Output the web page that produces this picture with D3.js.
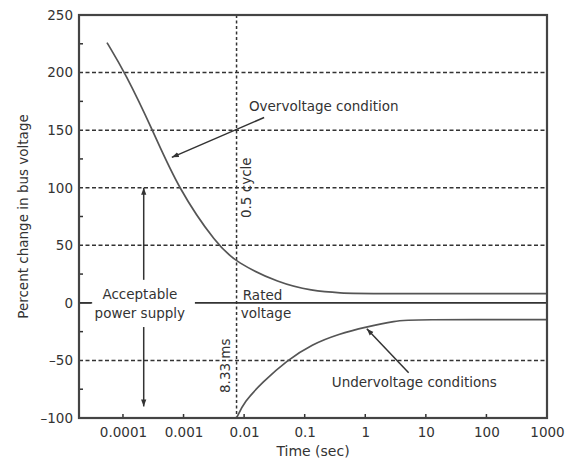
<!DOCTYPE html>
<html>
<head>
<meta charset="utf-8">
<script src="https://cdn.jsdelivr.net/npm/d3@7"></script>
<style>
  body { margin: 0; background: #fff; }
  text { font-family: "DejaVu Sans", sans-serif; fill: #333; }
</style>
</head>
<body>
<div id="chart"></div>
<script>
// time (s) / percent change readings
var overT = [5.45e-5, 1.08e-4, 3.1e-4, 8e-4, 3.6e-3, 7.5e-3, 0.038, 0.13, 0.4, 1, 1000];
var overV = [226, 200, 150, 100, 50, 35, 17, 10.5, 8.5, 8, 8];
var underT = [0.0075, 0.01, 0.02, 0.051, 0.132, 0.367, 1.02, 3.19, 6, 1000];
var underV = [-100, -86, -69, -50, -36, -27, -21, -15.5, -14.5, -14.5];

var yTicks = [250, 200, 150, 100, 50, 0, -50, -100];
var yMinor = [225, 175, 125, 75, 25, -25, -75];
var gridV = [200, 150, 100, 50, -50];
var xTicks = [0.0001, 0.001, 0.01, 0.1, 1, 10, 100, 1000];
var xTickLabels = ["0.0001", "0.001", "0.01", "0.1", "1", "10", "100", "1000"];
var halfCycle = 0.0075;
var ratedSegs = [[1.88e-5, 3.1e-5], [1.54e-3, 1000]];
var supplyT = 2.2e-4;
var supplyArrows = [[20, 100], [-21, -90]];

var margin = {top: 15, right: 22, bottom: 44, left: 79},
    width = 569 - margin.left - margin.right,
    height = 462 - margin.top - margin.bottom;

var svg = d3.select("#chart").append("svg")
    .attr("width", 569)
    .attr("height", 462);

var defs = svg.append("defs");
defs.append("marker")
    .attr("id", "arr")
    .attr("viewBox", "0 -4 8 8")
    .attr("refX", 8)
    .attr("refY", 0)
    .attr("markerWidth", 7)
    .attr("markerHeight", 7)
    .attr("markerUnits", "userSpaceOnUse")
    .attr("orient", "auto")
  .append("path")
    .attr("d", "M0,-3L8,0L0,3Z")
    .attr("fill", "#333");

var g = svg.append("g")
    .attr("transform", "translate(" + margin.left + "," + margin.top + ")");

var x = d3.scaleLog().domain([1.88e-5, 1000]).range([0, width]);
var y = d3.scaleLinear().domain([-100, 250]).range([height, 0]);

// grid
g.selectAll(".hgrid").data(gridV).enter().append("line")
    .attr("x1", 0).attr("x2", width)
    .attr("y1", function(d) { return y(d); })
    .attr("y2", function(d) { return y(d); })
    .attr("stroke", "#333").attr("stroke-width", 1.5)
    .attr("stroke-dasharray", "4,2.5");

g.append("line")
    .attr("x1", x(halfCycle)).attr("x2", x(halfCycle))
    .attr("y1", 0).attr("y2", height)
    .attr("stroke", "#333").attr("stroke-width", 1.5)
    .attr("stroke-dasharray", "3,2.5");

// rated voltage line
g.selectAll(".rated").data(ratedSegs).enter().append("line")
    .attr("x1", function(d) { return x(d[0]); })
    .attr("x2", function(d) { return x(d[1]); })
    .attr("y1", y(0)).attr("y2", y(0))
    .attr("stroke", "#333").attr("stroke-width", 1.6);

// curves
var line = d3.line()
    .x(function(d) { return x(d[0]); })
    .y(function(d) { return y(d[1]); })
    .curve(d3.curveBasis);

g.append("path")
    .datum(d3.zip(overT, overV))
    .attr("d", line)
    .attr("fill", "none").attr("stroke", "#555").attr("stroke-width", 1.7);

g.append("path")
    .datum(d3.zip(underT, underV))
    .attr("d", line)
    .attr("fill", "none").attr("stroke", "#555").attr("stroke-width", 1.7);

// axes
var yAxis = d3.axisLeft(y).tickValues(yTicks).tickSizeInner(0).tickSizeOuter(0)
    .tickPadding(6)
    .tickFormat(function(d) { return d < 0 ? "\u2013" + Math.abs(d) : d; });
var yAxisG = g.append("g").call(yAxis);
yAxisG.select(".domain").remove();
yAxisG.selectAll("text").style("font-size", "13.5px").attr("fill", "#333");

var xAxis = d3.axisBottom(x).tickValues(xTicks).tickSizeInner(0).tickSizeOuter(0)
    .tickPadding(9)
    .tickFormat(function(d, i) { return xTickLabels[i]; });
var xAxisG = g.append("g").attr("transform", "translate(0," + height + ")").call(xAxis);
xAxisG.select(".domain").remove();
xAxisG.selectAll("text").style("font-size", "13.5px").attr("fill", "#333");

// inner tick marks
g.selectAll(".ytk").data(yMinor.concat([0])).enter().append("line")
    .attr("x1", 0).attr("x2", function(d) { return d === 0 ? 12 : 4; })
    .attr("y1", function(d) { return y(d); })
    .attr("y2", function(d) { return y(d); })
    .attr("stroke", "#333").attr("stroke-width", 1.5);

g.selectAll(".xtk").data(xTicks.slice(0, -1)).enter().append("line")
    .attr("x1", function(d) { return x(d); })
    .attr("x2", function(d) { return x(d); })
    .attr("y1", height).attr("y2", height - 4)
    .attr("stroke", "#333").attr("stroke-width", 1.5);

// frame
g.append("rect")
    .attr("width", width).attr("height", height)
    .attr("fill", "none").attr("stroke", "#444").attr("stroke-width", 2.2);

// axis titles
g.append("text")
    .attr("x", width / 2).attr("y", height + 38)
    .attr("text-anchor", "middle")
    .style("font-size", "14px")
    .text("Time (sec)");

g.append("text")
    .attr("transform", "translate(" + (-51) + "," + y(75) + ") rotate(-90)")
    .attr("text-anchor", "middle")
    .style("font-size", "13.5px")
    .text("Percent change in bus voltage");

// annotations
function label(t, v, s, anchor, rot) {
  var tr = "translate(" + x(t) + "," + y(v) + ")" + (rot ? " rotate(-90)" : "");
  return g.append("text")
    .attr("transform", tr)
    .attr("text-anchor", anchor || "start")
    .style("font-size", "13.5px")
    .text(s);
}

label(0.012, 167, "Overvoltage condition");
label(0.0132, 100, "0.5 cycle", "middle", true);
label(0.0059, -54.6, "8.33 ms", "middle", true);
label(1.9e-4, 3, "Acceptable", "middle");
label(1.9e-4, -13, "power supply", "middle");
label(0.0095, 2.5, "Rated");
label(0.0088, -13.5, "voltage");
label(0.28, -73, "Undervoltage conditions");

function arrow(t0, v0, t1, v1) {
  g.append("line")
    .attr("x1", x(t0)).attr("y1", y(v0))
    .attr("x2", x(t1)).attr("y2", y(v1))
    .attr("stroke", "#333").attr("stroke-width", 1.5)
    .attr("marker-end", "url(#arr)");
}

arrow(0.0214, 161, 6.4e-4, 126.4);
arrow(5.2, -60.7, 1.06, -22.4);
supplyArrows.forEach(function(a) { arrow(supplyT, a[0], supplyT, a[1]); });
</script>
</body>
</html>
